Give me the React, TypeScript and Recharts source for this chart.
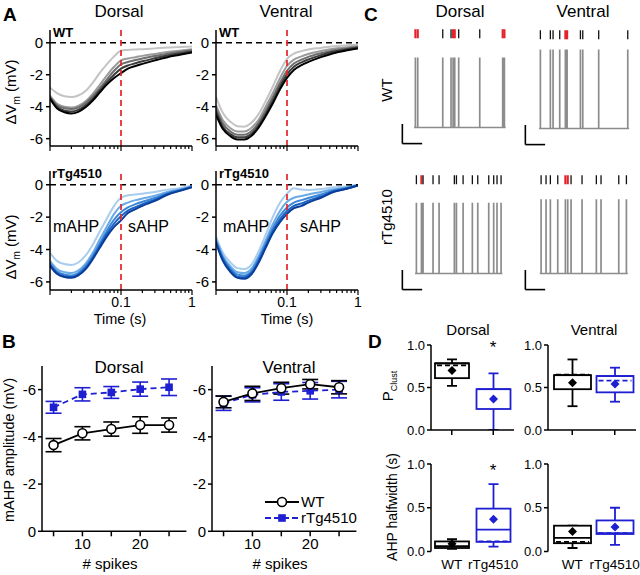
import React from 'react';
import { LineChart, Line, XAxis, YAxis, ReferenceLine, ComposedChart, Scatter, Bar, ErrorBar, Legend } from 'recharts';

const FONT = '"Liberation Sans", Arial, Helvetica, sans-serif';
const BLUE = '#1f1fd2';
const RED = '#e3242b';
const TRACE_GRAY = '#8c8c8c';

// ---------------- Panel A data ----------------
const timeA = [0.01, 0.0125, 0.016, 0.02, 0.025, 0.032, 0.04, 0.05, 0.063, 0.08, 0.1, 0.125, 0.16, 0.2, 0.3, 0.45, 0.7, 1.0];
const timeTicksA = [0.01, 0.02, 0.03, 0.04, 0.05, 0.06, 0.07, 0.08, 0.09, 0.1, 0.2, 0.3, 0.4, 0.5, 0.6, 0.7, 0.8, 0.9, 1];
const yTicksA = [-6, -4, -2, 0];

const wtDorsal1 = [-2.8, -3.15, -3.35, -3.4, -3.3, -3.0, -2.5, -1.9, -1.35, -0.85, -0.5, -0.45, -0.42, -0.4, -0.35, -0.3, -0.27, -0.24];
const wtDorsal2 = [-3.3, -3.8, -4.0, -4.05, -3.95, -3.65, -3.2, -2.65, -2.05, -1.5, -1.1, -0.98, -0.9, -0.82, -0.7, -0.58, -0.48, -0.4];
const wtDorsal3 = [-3.4, -3.9, -4.1, -4.15, -4.05, -3.75, -3.35, -2.85, -2.3, -1.75, -1.35, -1.2, -1.08, -0.98, -0.83, -0.68, -0.56, -0.47];
const wtDorsal4 = [-3.45, -4.0, -4.25, -4.3, -4.2, -3.9, -3.5, -3.0, -2.48, -2.0, -1.62, -1.42, -1.28, -1.16, -0.97, -0.79, -0.65, -0.54];
const wtDorsal5 = [-3.5, -4.1, -4.35, -4.42, -4.32, -4.02, -3.62, -3.12, -2.62, -2.2, -1.9, -1.62, -1.45, -1.32, -1.1, -0.9, -0.74, -0.6];

const wtVentral1 = [-3.4, -4.4, -4.95, -5.22, -5.25, -4.98, -4.45, -3.65, -2.75, -1.75, -1.0, -0.68, -0.52, -0.42, -0.32, -0.22, -0.15, -0.1];
const wtVentral2 = [-3.9, -4.85, -5.35, -5.55, -5.55, -5.3, -4.8, -4.0, -3.15, -2.2, -1.45, -1.05, -0.85, -0.7, -0.52, -0.38, -0.28, -0.2];
const wtVentral3 = [-4.1, -5.05, -5.55, -5.75, -5.75, -5.5, -5.0, -4.25, -3.4, -2.5, -1.75, -1.3, -1.05, -0.88, -0.66, -0.48, -0.35, -0.26];
const wtVentral4 = [-4.3, -5.25, -5.72, -5.92, -5.92, -5.67, -5.17, -4.45, -3.62, -2.72, -1.98, -1.5, -1.22, -1.04, -0.78, -0.56, -0.41, -0.3];
const wtVentral5 = [-4.5, -5.4, -5.85, -6.05, -6.05, -5.8, -5.3, -4.6, -3.8, -2.9, -2.2, -1.7, -1.4, -1.2, -0.9, -0.65, -0.47, -0.35];

const tgDorsal1 = [-4.2, -4.7, -4.9, -4.95, -4.8, -4.35, -3.7, -2.9, -2.1, -1.3, -0.8, -0.65, -0.6, -0.55, -0.45, -0.3, -0.2, -0.05];
const tgDorsal2 = [-4.7, -5.2, -5.4, -5.45, -5.3, -4.85, -4.2, -3.4, -2.6, -1.8, -1.3, -1.1, -0.95, -0.85, -0.68, -0.45, -0.28, -0.1];
const tgDorsal3 = [-4.85, -5.35, -5.55, -5.6, -5.45, -5.0, -4.4, -3.65, -2.85, -2.15, -1.7, -1.4, -1.2, -1.05, -0.82, -0.52, -0.3, -0.12];
const tgDorsal4 = [-4.95, -5.45, -5.65, -5.7, -5.55, -5.12, -4.52, -3.8, -3.05, -2.4, -1.95, -1.6, -1.38, -1.2, -0.92, -0.58, -0.33, -0.13];
const tgDorsal5 = [-5.0, -5.5, -5.7, -5.75, -5.6, -5.2, -4.6, -3.9, -3.2, -2.6, -2.2, -1.75, -1.5, -1.3, -1.0, -0.62, -0.36, -0.15];

const tgVentral1 = [-3.2, -4.2, -4.8, -5.15, -5.2, -4.9, -4.1, -3.1, -2.0, -1.1, -0.55, -0.22, -0.3, -0.32, -0.26, -0.16, -0.1, 0.0];
const tgVentral2 = [-3.35, -4.4, -5.05, -5.4, -5.45, -5.15, -4.4, -3.45, -2.45, -1.6, -1.05, -0.8, -0.7, -0.6, -0.45, -0.28, -0.15, -0.02];
const tgVentral3 = [-3.45, -4.5, -5.2, -5.55, -5.6, -5.3, -4.55, -3.65, -2.7, -1.9, -1.4, -1.1, -0.95, -0.82, -0.6, -0.36, -0.2, -0.03];
const tgVentral4 = [-3.55, -4.6, -5.3, -5.68, -5.72, -5.42, -4.7, -3.8, -2.88, -2.12, -1.62, -1.3, -1.15, -0.98, -0.72, -0.42, -0.23, -0.04];
const tgVentral5 = [-3.6, -4.7, -5.4, -5.75, -5.8, -5.5, -4.8, -3.9, -3.0, -2.3, -1.8, -1.45, -1.3, -1.1, -0.8, -0.45, -0.25, -0.05];

const GRAYS = ['#c4c4c4', '#9b9b9b', '#6e6e6e', '#3c3c3c', '#000000'];
const BLUES = ['#a8cdef', '#6aaae6', '#3b86d6', '#1b63c2', '#0a3c9a'];

// ---------------- Panel B data ----------------
const spikeCounts = [5, 10, 15, 20, 25];
const bWtDorsal = [-3.65, -4.15, -4.33, -4.5, -4.5];
const bWtDorsalErr = [0.28, 0.28, 0.3, 0.35, 0.3];
const bTgDorsal = [-5.25, -5.8, -5.88, -6.02, -6.1];
const bTgDorsalErr = [0.25, 0.28, 0.25, 0.3, 0.35];
const bWtVentral = [-5.48, -5.84, -6.06, -6.23, -6.1];
const bWtVentralErr = [0.25, 0.3, 0.25, 0.2, 0.28];
const bTgVentral = [-5.42, -5.78, -5.9, -5.95, -6.0];
const bTgVentralErr = [0.3, 0.3, 0.35, 0.35, 0.35];
const bXTicks = [5, 10, 15, 20, 25];
const bXLabels = [10, 20];
const bYTicks = [-6, -4, -2, 0];

// ---------------- Panel C data (spike times, s) ----------------
const wtDorsalSpikes = [0, 0.26, 3.04, 3.96, 4.19, 4.37, 4.81, 7.15, 9.7, 9.89];
const wtDorsalClust = [1, 1, 0, 0, 1, 1, 0, 0, 1, 1];
const wtVentralSpikes = [0.22, 1.33, 1.63, 2.37, 3.0, 3.19, 4.67, 4.93, 6.7, 9.93];
const wtVentralClust = [0, 0, 0, 0, 1, 1, 0, 0, 0, 0];
const tgDorsalSpikes = [0.11, 0.67, 0.85, 1.96, 2.63, 4.33, 4.56, 5.3, 6.33, 6.93, 8.15, 8.7, 9.07, 9.52];
const tgDorsalClust = [0, 1, 0, 0, 0, 0, 0, 0, 0, 0, 0, 0, 0, 0];
const tgVentralSpikes = [0.3, 0.85, 1.33, 2.15, 3.0, 3.26, 3.63, 4.85, 6.44, 6.96, 8.93, 9.78];
const tgVentralClust = [0, 0, 0, 0, 1, 1, 0, 0, 0, 0, 0, 0];
const spikeAmps = { wtD: 1.0, wtV: 1.13, tgD: 1.01, tgV: 1.06 };
const rasterLevel = 1.34;
const scaleBar = { t: -1.45, v: -0.23, len: 2.2, h: 0.28 };

// ---------------- Panel D data: [lo, q1, median, q3, hi, dashed, mean] ----------------
const groupsD = ['WT', 'rTg4510'];
const pClustDorsalWT = [0.52, 0.61, 0.785, 0.785, 0.83, 0.76, 0.7];
const pClustDorsalTg = [0.0, 0.247, 0.48, 0.48, 0.667, null, 0.365];
const pClustVentralWT = [0.28, 0.48, 0.645, 0.645, 0.83, 0.65, 0.556];
const pClustVentralTg = [0.333, 0.443, 0.635, 0.635, 0.733, 0.58, 0.54];
const halfDorsalWT = [0.03, 0.04, 0.06, 0.115, 0.14, null, 0.09];
const halfDorsalTg = [0.055, 0.11, 0.25, 0.49, 0.77, 0.115, 0.37];
const halfVentralWT = [0.04, 0.095, 0.155, 0.295, 0.295, 0.11, 0.228];
const halfVentralTg = [0.075, 0.2, 0.21, 0.355, 0.5, 0.21, 0.28];
const dYTicks = [0, 0.5, 1];

const AX = { stroke: '#000', strokeWidth: 1.5 };

// ---------------- Panel A ----------------
const near = (a: number, b: number) => Math.abs(a - b) < 1e-9;

function LogTick(props: any) {
  const { x, y, payload, showLabel } = props;
  const v = payload.value;
  const major = near(v, 0.01) || near(v, 0.1) || near(v, 1);
  const len = major ? 5 : 3;
  const label = showLabel ? (near(v, 0.1) ? '0.1' : near(v, 1) ? '1' : null) : null;
  return (
    <g>
      <line x1={x} x2={x} y1={y} y2={y + len} stroke="#000" strokeWidth={1.2} />
      {label && (
        <text x={x} y={y + 17} textAnchor="middle" fontSize={14} fontFamily={FONT} fill="#000">
          {label}
        </text>
      )}
    </g>
  );
}

function TracePlot(props: any) {
  const { x0, y0, w, h, traces, colors, yDomain, showTimeLabels } = props;
  const P = 10, YW = 40, XH = showTimeLabels ? 30 : 10;
  const data = timeA.map((t, i) => {
    const row: any = { t };
    traces.forEach((tr: number[], k: number) => { row['s' + k] = tr[i]; });
    return row;
  });
  return (
    <div style={{ position: 'absolute', left: x0 - YW - P, top: y0 - P }}>
      <LineChart width={w + YW + 2 * P} height={h + XH + 2 * P} data={data} margin={{ top: P, right: P, bottom: P, left: P }}>
        <XAxis dataKey="t" type="number" scale="log" domain={[0.01, 1]} allowDataOverflow ticks={timeTicksA} interval={0}
          tickSize={0} tickMargin={0} tickLine={false} height={XH} axisLine={AX}
          tick={(p: any) => <LogTick {...p} showLabel={showTimeLabels} />} />
        <YAxis type="number" domain={yDomain} allowDataOverflow ticks={yTicksA} interval={0} width={YW}
          tickSize={4} tickMargin={3} axisLine={AX} tickLine={AX}
          tick={{ fontSize: 15, fill: '#000', fontFamily: FONT }} />
        {traces.map((_: any, k: number) => (
          <Line key={k} dataKey={'s' + k} type="monotone" stroke={colors[k]} strokeWidth={2} dot={false} isAnimationActive={false} />
        ))}
        <ReferenceLine y={0} stroke="#000" strokeWidth={1.6} strokeDasharray="6 4" />
        <ReferenceLine x={0.1} stroke={RED} strokeWidth={1.7} strokeDasharray="6 4" />
      </LineChart>
    </div>
  );
}

// ---------------- Panel B ----------------
const SquareDot = (props: any) => {
  const { cx, cy } = props;
  if (cx == null || cy == null) return null;
  return <rect x={cx - 3.8} y={cy - 3.8} width={7.6} height={7.6} fill={BLUE} />;
};

const BLegend = (props: any) => {
  const items = [...(props.payload || [])].sort((a: any, b: any) => (a.value === 'WT' ? 0 : 1) - (b.value === 'WT' ? 0 : 1));
  return (
    <svg width={120} height={36}>
      {items.map((it: any, i: number) => {
        const y = 8 + i * 16;
        const isWT = it.value === 'WT';
        return (
          <g key={i}>
            <line x1={2} x2={36} y1={y} y2={y} stroke={it.color} strokeWidth={1.8} strokeDasharray={isWT ? undefined : '6 3'} />
            {isWT ? (
              <circle cx={19} cy={y} r={4.5} fill="#fff" stroke="#000" strokeWidth={1.6} />
            ) : (
              <rect x={15.2} y={y - 3.8} width={7.6} height={7.6} fill={BLUE} />
            )}
            <text x={38} y={y + 5} fontSize={15} fontFamily={FONT} fill="#000">{it.value}</text>
          </g>
        );
      })}
    </svg>
  );
};

function AmpPlot(props: any) {
  const { x0, wt, wtErr, tg, tgErr, legend, wtOnTop } = props;
  const y0 = 366.4, w = 144.4, h = 165.3;
  const P = 10, YW = 30, XH = 26;
  const data = spikeCounts.map((n, i) => ({ n, wt: wt[i], wtErr: wtErr[i], tg: tg[i], tgErr: tgErr[i] }));
  const wtLine = (
    <Line key="wt" name="WT" dataKey="wt" stroke="#000" strokeWidth={1.8} isAnimationActive={false}
      dot={{ r: 4.5, fill: '#fff', stroke: '#000', strokeWidth: 1.6 }}>
      <ErrorBar dataKey="wtErr" width={8} stroke="#000" strokeWidth={1.6} direction="y" />
    </Line>
  );
  const tgLine = (
    <Line key="tg" name="rTg4510" dataKey="tg" stroke={BLUE} strokeWidth={1.8} strokeDasharray="6 4" isAnimationActive={false}
      dot={<SquareDot />}>
      <ErrorBar dataKey="tgErr" width={8} stroke={BLUE} strokeWidth={1.6} direction="y" />
    </Line>
  );
  const left = x0 - YW - P, top = y0 - P;
  return (
    <div style={{ position: 'absolute', left, top }}>
      <LineChart width={w + YW + 2 * P} height={h + XH + 2 * P} data={data} margin={{ top: P, right: P, bottom: P, left: P }}>
        <XAxis dataKey="n" type="number" domain={[3, 28]} allowDataOverflow ticks={bXTicks} interval={0} height={XH}
          tickFormatter={(v: number) => (bXLabels.includes(v) ? String(v) : '')}
          tickSize={5} tickMargin={2} axisLine={AX} tickLine={AX}
          tick={{ fontSize: 15, fill: '#000', fontFamily: FONT }} />
        <YAxis type="number" domain={[-7, 0]} reversed allowDataOverflow ticks={bYTicks} interval={0} width={YW}
          tickSize={4} tickMargin={2} axisLine={AX} tickLine={AX}
          tick={{ fontSize: 15, fill: '#000', fontFamily: FONT }} />
        {wtOnTop ? [tgLine, wtLine] : [wtLine, tgLine]}
        {legend && (
          <Legend layout="vertical" align="center" verticalAlign="middle" content={<BLegend />}
            wrapperStyle={{ left: 263 - left, top: 494 - top, width: 120, height: 36 }} />
        )}
      </LineChart>
    </div>
  );
}

// ---------------- Panel C ----------------
const RasterTick = (props: any) => {
  const { cx, cy, payload } = props;
  if (cx == null || cy == null) return null;
  const red = payload && payload.red;
  return <line x1={cx} x2={cx} y1={cy - 4.5} y2={cy + 4.5} stroke={red ? RED : '#111'} strokeWidth={red ? 2.2 : 1.3} />;
};

function SpikePlot(props: any) {
  const { t0, baseY, spikes, clust, amp } = props;
  const PXs = 9, PYu = 70;
  const xMin = -1.6, xMax = 10.2, yMin = -0.35, yMax = 1.45;
  const P = 6;
  const x0 = t0 + xMin * PXs, w = (xMax - xMin) * PXs;
  const y0 = baseY - yMax * PYu, h = (yMax - yMin) * PYu;
  const first = spikes[0], last = spikes[spikes.length - 1];
  const trace: any[] = [{ t: first - 0.15, v: 0 }];
  spikes.forEach((s: number) => { trace.push({ t: s, v: 0 }); trace.push({ t: s, v: amp }); trace.push({ t: s, v: 0 }); });
  trace.push({ t: last + 0.15, v: 0 });
  const raster = spikes.map((s: number, i: number) => ({ t: s, r: rasterLevel, red: clust[i] === 1 }));
  return (
    <div style={{ position: 'absolute', left: x0 - P, top: y0 - P }}>
      <ComposedChart width={w + 2 * P} height={h + 2 * P} margin={{ top: P, right: P, bottom: P, left: P }}>
        <XAxis type="number" dataKey="t" domain={[xMin, xMax]} allowDataOverflow hide />
        <YAxis type="number" domain={[yMin, yMax]} allowDataOverflow hide />
        <Line data={trace} dataKey="v" type="linear" stroke={TRACE_GRAY} strokeWidth={1.7} dot={false} isAnimationActive={false} />
        <Scatter data={raster} dataKey="r" shape={RasterTick} isAnimationActive={false} />
        <ReferenceLine segment={[{ x: scaleBar.t, y: scaleBar.v }, { x: scaleBar.t + scaleBar.len, y: scaleBar.v }]} stroke="#000" strokeWidth={1.6} />
        <ReferenceLine segment={[{ x: scaleBar.t, y: scaleBar.v }, { x: scaleBar.t, y: scaleBar.v + scaleBar.h }]} stroke="#000" strokeWidth={1.6} />
      </ComposedChart>
    </div>
  );
}

// ---------------- Panel D ----------------
const BoxShape = (props: any) => {
  const { x, y, width, height, payload } = props;
  if (!payload || x == null) return null;
  const [lo, q1, med, q3, hi, dash, mean] = payload.stats;
  const top = Math.min(y, y + height), hh = Math.abs(height);
  const py = (v: number) => top + ((hi - v) / (hi - lo)) * hh;
  const cx = x + width / 2;
  const c = payload.g === 'WT' ? '#000' : BLUE;
  const sw = 1.8, cap = 5, d = 4.5;
  const my = py(mean);
  return (
    <g>
      <line x1={cx} x2={cx} y1={py(hi)} y2={py(q3)} stroke={c} strokeWidth={sw} />
      <line x1={cx} x2={cx} y1={py(q1)} y2={py(lo)} stroke={c} strokeWidth={sw} />
      <line x1={cx - cap} x2={cx + cap} y1={py(hi)} y2={py(hi)} stroke={c} strokeWidth={sw} />
      <line x1={cx - cap} x2={cx + cap} y1={py(lo)} y2={py(lo)} stroke={c} strokeWidth={sw} />
      <rect x={x} y={py(q3)} width={width} height={Math.max(0, py(q1) - py(q3))} fill="#fff" stroke={c} strokeWidth={sw} />
      <line x1={x} x2={x + width} y1={py(med)} y2={py(med)} stroke={c} strokeWidth={sw} />
      {dash != null && (
        <line x1={x + 2} x2={x + width - 2} y1={py(dash)} y2={py(dash)} stroke={c} strokeWidth={sw} strokeDasharray="5 3" />
      )}
      <polygon points={`${cx},${my - d} ${cx + d},${my} ${cx},${my + d} ${cx - d},${my}`} fill={c} />
    </g>
  );
};

function BoxPlot(props: any) {
  const { x0, y0, w, h, stats, xLabels, padLeft, barSize } = props;
  const P = 10, YW = 32, XH = xLabels ? 24 : 8;
  const data = groupsD.map((g, i) => ({ g, range: [stats[i][0], stats[i][4]], stats: stats[i] }));
  return (
    <div style={{ position: 'absolute', left: x0 - YW - P, top: y0 - P }}>
      <ComposedChart width={w + YW + 2 * P} height={h + XH + 2 * P} data={data} margin={{ top: P, right: P, bottom: P, left: P }}>
        <XAxis dataKey="g" type="category" height={XH} padding={{ left: padLeft, right: 0 }} interval={0}
          axisLine={xLabels ? false : AX} tickLine={xLabels ? false : AX}
          tickSize={xLabels ? 0 : 5} tickMargin={xLabels ? 8 : 0}
          tick={xLabels ? { fontSize: 13.5, fill: '#000', fontFamily: FONT } : () => <g />} />
        <YAxis type="number" domain={[0, 1]} allowDataOverflow ticks={dYTicks} interval={0} width={YW}
          tickFormatter={(v: number) => v.toFixed(1)} tickSize={4} tickMargin={2} axisLine={AX} tickLine={AX}
          tick={{ fontSize: 13, fill: '#000', fontFamily: FONT }} />
        <Bar dataKey="range" barSize={barSize} shape={BoxShape} isAnimationActive={false} />
      </ComposedChart>
    </div>
  );
}

// ---------------- Text overlay ----------------
const T = (p: any) => <text fontFamily={FONT} fill="#000" {...p} />;

function Overlay() {
  return (
    <svg width={640} height={575} style={{ position: 'absolute', left: 0, top: 0, pointerEvents: 'none' }}>
      {/* Panel letters */}
      <T x={3} y={21} fontSize={19} fontWeight="bold">A</T>
      <T x={2} y={348} fontSize={19} fontWeight="bold">B</T>
      <T x={364} y={21} fontSize={19} fontWeight="bold">C</T>
      <T x={368} y={348} fontSize={19} fontWeight="bold">D</T>

      {/* Panel A */}
      <T x={119} y={17} fontSize={17} textAnchor="middle">Dorsal</T>
      <T x={286} y={17} fontSize={17} textAnchor="middle">Ventral</T>
      <T x={53} y={37} fontSize={13} fontWeight="bold">WT</T>
      <T x={219} y={37} fontSize={13} fontWeight="bold">WT</T>
      <T x={52} y={178} fontSize={13} fontWeight="bold">rTg4510</T>
      <T x={219} y={178} fontSize={13} fontWeight="bold">rTg4510</T>
      <T x={53} y={232} fontSize={16}>mAHP</T>
      <T x={128} y={232} fontSize={16}>sAHP</T>
      <T x={223} y={232} fontSize={16}>mAHP</T>
      <T x={300} y={232} fontSize={16}>sAHP</T>
      <T transform="translate(16,92) rotate(-90)" fontSize={15} textAnchor="middle">
        ΔV<tspan fontSize={10} dy={4}>m</tspan><tspan dy={-4}> (mV)</tspan>
      </T>
      <T transform="translate(16,247) rotate(-90)" fontSize={15} textAnchor="middle">
        ΔV<tspan fontSize={10} dy={4}>m</tspan><tspan dy={-4}> (mV)</tspan>
      </T>
      <T x={120} y={324} fontSize={14.5} textAnchor="middle">Time (s)</T>
      <T x={287} y={324} fontSize={14.5} textAnchor="middle">Time (s)</T>

      {/* Panel B */}
      <T x={119} y={373} fontSize={17} textAnchor="middle">Dorsal</T>
      <T x={289} y={373} fontSize={17} textAnchor="middle">Ventral</T>
      <T transform="translate(14,450) rotate(-90)" fontSize={14.5} textAnchor="middle">mAHP amplitude (mV)</T>
      <T x={110} y={569} fontSize={15} textAnchor="middle"># spikes</T>
      <T x={280} y={569} fontSize={15} textAnchor="middle"># spikes</T>

      {/* Panel C */}
      <T x={460} y={17} fontSize={17} textAnchor="middle">Dorsal</T>
      <T x={583} y={17} fontSize={17} textAnchor="middle">Ventral</T>
      <T transform="translate(392,90) rotate(-90)" fontSize={15} textAnchor="middle">WT</T>
      <T transform="translate(392,217) rotate(-90)" fontSize={15} textAnchor="middle">rTg4510</T>

      {/* Panel D */}
      <T x={468} y={335} fontSize={15} textAnchor="middle">Dorsal</T>
      <T x={594} y={335} fontSize={15} textAnchor="middle">Ventral</T>
      <T x={493} y={353} fontSize={17} textAnchor="middle">*</T>
      <T x={493} y={476} fontSize={17} textAnchor="middle">*</T>
      <T transform="translate(393,386) rotate(-90)" fontSize={15} textAnchor="middle">
        P<tspan fontSize={9} dy={4}>Clust</tspan>
      </T>
      <T transform="translate(397,507) rotate(-90)" fontSize={14} textAnchor="middle">AHP halfwidth (s)</T>
    </svg>
  );
}

export default function App() {
  return (
    <div style={{ position: 'absolute', left: 0, top: 0, width: 640, height: 575, background: '#fff', overflow: 'hidden', fontFamily: FONT }}>
      {/* A */}
      <TracePlot x0={50} y0={30} w={142} h={116} yDomain={[-6.46, 0.8]} showTimeLabels={false}
        traces={[wtDorsal1, wtDorsal2, wtDorsal3, wtDorsal4, wtDorsal5]} colors={GRAYS} />
      <TracePlot x0={216} y0={30} w={142} h={116} yDomain={[-6.46, 0.8]} showTimeLabels={false}
        traces={[wtVentral1, wtVentral2, wtVentral3, wtVentral4, wtVentral5]} colors={GRAYS} />
      <TracePlot x0={50} y0={171} w={142} h={119} yDomain={[-6.5, 0.85]} showTimeLabels
        traces={[tgDorsal1, tgDorsal2, tgDorsal3, tgDorsal4, tgDorsal5]} colors={BLUES} />
      <TracePlot x0={216} y0={171} w={142} h={119} yDomain={[-6.5, 0.85]} showTimeLabels
        traces={[tgVentral1, tgVentral2, tgVentral3, tgVentral4, tgVentral5]} colors={BLUES} />

      {/* B */}
      <AmpPlot x0={42} wt={bWtDorsal} wtErr={bWtDorsalErr} tg={bTgDorsal} tgErr={bTgDorsalErr} />
      <AmpPlot x0={212} wt={bWtVentral} wtErr={bWtVentralErr} tg={bTgVentral} tgErr={bTgVentralErr} legend wtOnTop />

      {/* C */}
      <SpikePlot t0={415} baseY={127} spikes={wtDorsalSpikes} clust={wtDorsalClust} amp={spikeAmps.wtD} />
      <SpikePlot t0={538} baseY={128} spikes={wtVentralSpikes} clust={wtVentralClust} amp={spikeAmps.wtV} />
      <SpikePlot t0={415} baseY={273} spikes={tgDorsalSpikes} clust={tgDorsalClust} amp={spikeAmps.tgD} />
      <SpikePlot t0={538} baseY={273} spikes={tgVentralSpikes} clust={tgVentralClust} amp={spikeAmps.tgV} />

      {/* D */}
      <BoxPlot x0={431} y0={345} w={83} h={85} stats={[pClustDorsalWT, pClustDorsalTg]} padLeft={0} barSize={34} />
      <BoxPlot x0={548} y0={345} w={88} h={85} stats={[pClustVentralWT, pClustVentralTg]} padLeft={3} barSize={37} />
      <BoxPlot x0={431} y0={464} w={83} h={87.5} stats={[halfDorsalWT, halfDorsalTg]} padLeft={0} barSize={34} xLabels />
      <BoxPlot x0={548} y0={464} w={88} h={87.5} stats={[halfVentralWT, halfVentralTg]} padLeft={3} barSize={37} xLabels />

      <Overlay />
    </div>
  );
}
